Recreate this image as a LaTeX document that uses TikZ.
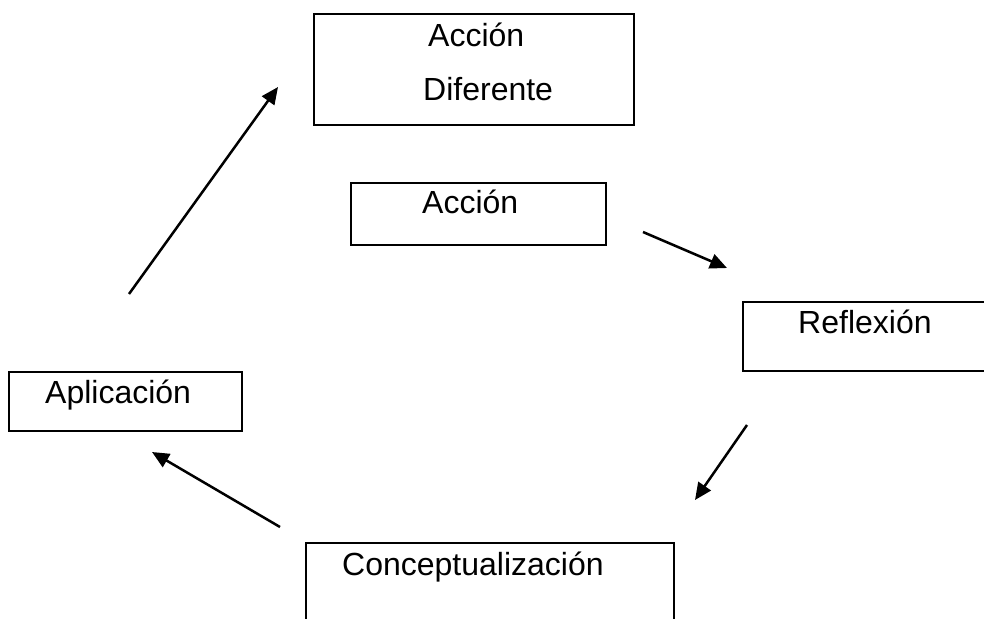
\documentclass[tikz,border=0pt]{standalone}
\usepackage{fontspec}
\setmainfont{Liberation Sans}
\usetikzlibrary{arrows.meta}
\begin{document}
\begin{tikzpicture}[x=1pt,y=-1pt,
  boxframe/.style={draw=black,line width=2.5pt},
  lbl/.style={anchor=base west,inner sep=0pt,font=\fontsize{32}{38}\selectfont},
  conn/.style={line width=2.5pt,-{Triangle[length=17pt,width=15pt]}}]
\useasboundingbox (0,0) rectangle (984,618);
\clip (0,0) rectangle (984,618);
% boxes
\draw[boxframe] (314,14) rectangle (634,125);
\draw[boxframe] (351,183) rectangle (606,245);
\draw[boxframe] (743,302) rectangle (1000,371);
\draw[boxframe] (9,372) rectangle (242,431);
\draw[boxframe] (306,543) rectangle (674,640);
% labels
\node[lbl] (ad1) at (428,47) {Acción};
\node[lbl] (ad2) at (423,100) {Diferente};
\node[lbl] (acc) at (422,213) {Acción};
\node[lbl] (ref) at (798,333) {Reflexión};
\node[lbl] (apl) at (45,403) {Aplicación};
\node[lbl] (con) at (342,575) {Conceptualización};
% arrow endpoints
\coordinate (a1s) at (129,294);
\coordinate (a1e) at (278,87);
\coordinate (a2s) at (643,232);
\coordinate (a2e) at (727,268);
\coordinate (a3s) at (747,425);
\coordinate (a3e) at (695,500);
\coordinate (a4s) at (280,527);
\coordinate (a4e) at (152,452);
\draw[conn] (a1s) -- (a1e);
\draw[conn] (a2s) -- (a2e);
\draw[conn] (a3s) -- (a3e);
\draw[conn] (a4s) -- (a4e);
\end{tikzpicture}
\end{document}
